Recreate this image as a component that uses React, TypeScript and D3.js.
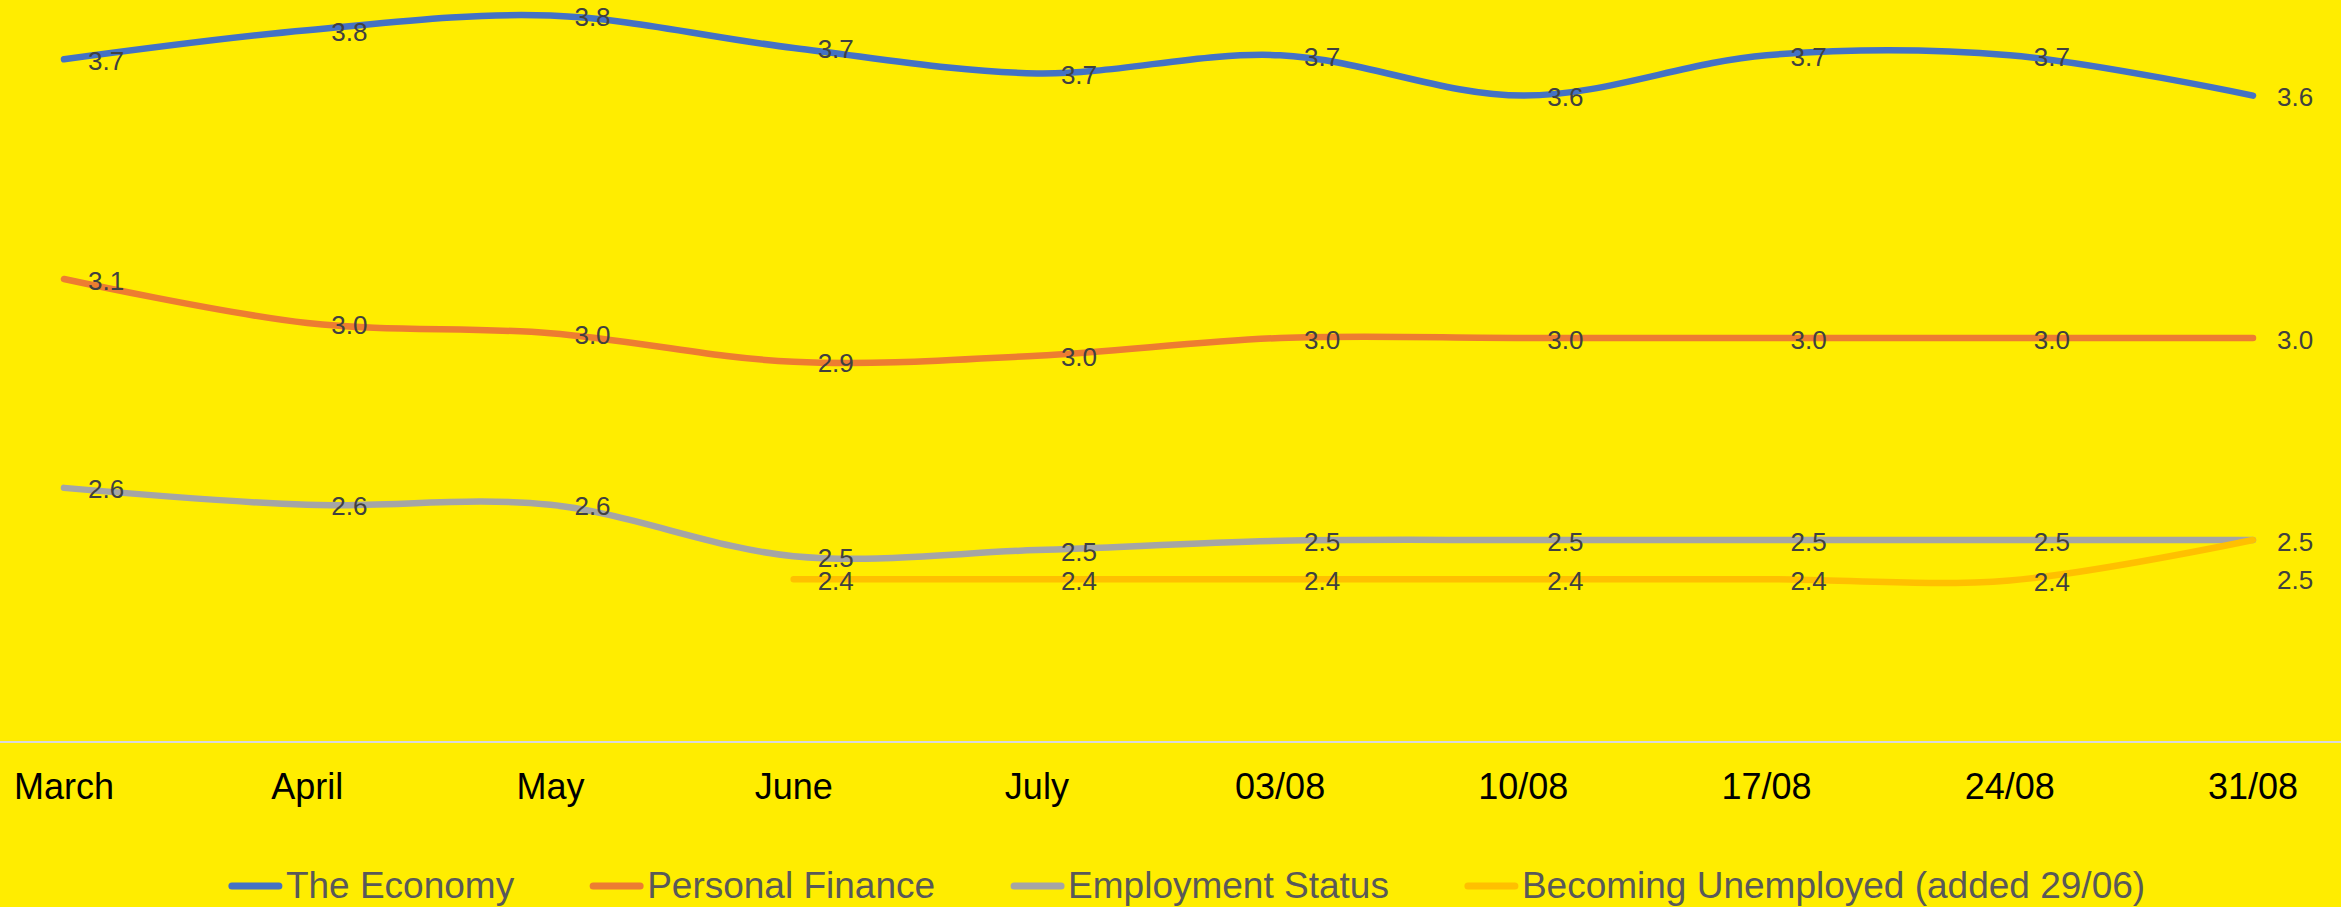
import React from 'react';
import * as d3 from 'd3';

const categories = ['March', 'April', 'May', 'June', 'July', '03/08', '10/08', '17/08', '24/08', '31/08'];
const economy = [3.69, 3.762, 3.798, 3.718, 3.655, 3.70, 3.60, 3.70, 3.70, 3.60];
const personalFinance = [3.146, 3.037, 3.012, 2.941, 2.956, 3.0, 3.0, 3.0, 3.0, 3.0];
const employmentStatus = [2.629, 2.587, 2.587, 2.46, 2.475, 2.498, 2.5, 2.5, 2.5, 2.5];
const becomingUnemployed: (number | null)[] = [null, null, null, 2.403, 2.403, 2.403, 2.403, 2.403, 2.40, 2.5];

const seriesNames = ['The Economy', 'Personal Finance', 'Employment Status', 'Becoming Unemployed (added 29/06)'];
const seriesColors = ['#4472C4', '#ED7D31', '#A5A5A5', '#FFC000'];
const seriesValues: (number | null)[][] = [economy, personalFinance, employmentStatus, becomingUnemployed];

const W = 2341;
const H = 907;
const FONT = "'Liberation Sans', Arial, sans-serif";

function textWidth(t: string, size: number) {
  const c = document.createElement('canvas').getContext('2d');
  if (!c) return t.length * size * 0.5;
  c.font = `${size}px ${FONT}`;
  return c.measureText(t).width;
}

export default function App() {
  const x = d3.scalePoint<string>().domain(categories).range([64, 2253]);
  const y = d3.scaleLinear().domain([2, 4]).range([742, 742 - 2 * 404]);
  const fmt = d3.format('.1f');

  const line = d3
    .line<number | null>()
    .defined((d) => d !== null)
    .x((_, i) => x(categories[i]) as number)
    .y((d) => y(d as number))
    .curve(d3.curveCardinal.tension(0));

  // data labels with simple collision avoidance
  const placed: { x: number; y: number }[] = [];
  const labels: { x: number; y: number; t: string; key: string }[] = [];
  seriesValues.forEach((vals, s) => {
    vals.forEach((v, i) => {
      if (v === null) return;
      const px = x(categories[i]) as number;
      let py = y(v) + 1;
      while (placed.some((p) => p.x === px && Math.abs(p.y - py) < 12)) py += 38;
      placed.push({ x: px, y: py });
      labels.push({ x: px + 24, y: py, t: fmt(v), key: `${s}-${i}` });
    });
  });

  // legend layout
  const legendSize = 37;
  const sw = 53;
  const gapText = 4;
  const gapItem = 76;
  const widths = seriesNames.map((n) => textWidth(n, legendSize));
  const total = widths.reduce((a, b) => a + b, 0) + seriesNames.length * (sw + gapText) + (seriesNames.length - 1) * gapItem;
  let lx = 1187 - total / 2;
  const legendItems = seriesNames.map((n, i) => {
    const item = { x: lx, name: n, color: seriesColors[i] };
    lx += sw + gapText + widths[i] + gapItem;
    return item;
  });

  return (
    <svg
      width={W}
      height={H}
      style={{ position: 'absolute', left: 0, top: 0, display: 'block' }}
      fontFamily={FONT}
    >
      <rect x={0} y={0} width={W} height={H} fill="#FFED00" />
      <line x1={0} x2={W} y1={742} y2={742} stroke="#D9D9D9" strokeWidth={2} />
      {categories.map((c) => (
        <text key={c} x={x(c)} y={799} textAnchor="middle" fontSize={36} fill="#000000">
          {c}
        </text>
      ))}
      {seriesValues.map((vals, s) => (
        <path
          key={seriesNames[s]}
          d={line(vals) || ''}
          fill="none"
          stroke={seriesColors[s]}
          strokeWidth={6.5}
          strokeLinecap="round"
          strokeLinejoin="round"
        />
      ))}
      {labels.map((l) => (
        <text key={l.key} x={l.x} y={l.y + 9.5} fontSize={26} fill="#404040">
          {l.t}
        </text>
      ))}
      {legendItems.map((it) => (
        <g key={it.name}>
          <line
            x1={it.x + 3}
            x2={it.x + sw - 3}
            y1={886}
            y2={886}
            stroke={it.color}
            strokeWidth={7}
            strokeLinecap="round"
          />
          <text x={it.x + sw + gapText} y={898} fontSize={legendSize} fill="#595959">
            {it.name}
          </text>
        </g>
      ))}
    </svg>
  );
}
